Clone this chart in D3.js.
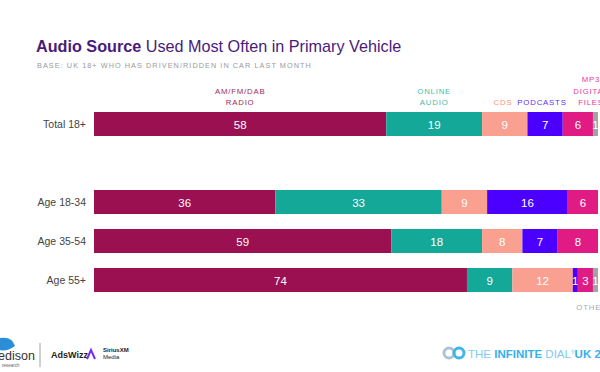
<html>
<head>
<script src="https://d3js.org/d3.v7.min.js"></script>
<style>
  body { margin: 0; background: #fff; font-family: "Liberation Sans", Arial, sans-serif; }
</style>
</head>
<body>
<svg id="chart"></svg>
<script>
const width = 600, height = 372;

// data
const sources = ["AM/FM/DAB Radio", "Online Audio", "CDs", "Podcasts", "MP3 Digital Files", "Other"];
const groups = ["Total 18+", "Age 18-34", "Age 35-54", "Age 55+"];
const total18 = [58, 19, 9, 7, 6, 1];
const age1834 = [36, 33, 9, 16, 6, 0];
const age3554 = [59, 18, 8, 7, 8, 0];
const age55 = [74, 9, 12, 1, 3, 1];
const legendLines = [["AM/FM/DAB", "RADIO"], ["ONLINE", "AUDIO"], ["CDS"], ["PODCASTS"], ["MP3", "DIGITAL", "FILES"], ["OTHER"]];
const colors = ["#9a1050", "#14a898", "#f9a091", "#4b00ff", "#e01c84", "#a3a3a3"];
const labelColors = ["#a3285f", "#45bba9", "#f7957f", "#6030f2", "#e5389a", "#aaaaaa"];

const values = [total18, age1834, age3554, age55];

const svg = d3.select("#chart").attr("width", width).attr("height", height);

// title
const title = svg.append("text").attr("x", 36).attr("y", 52)
  .style("font-size", "16.2px").style("fill", "#4a1a7c");
title.append("tspan").text("Audio Source").style("font-weight", "bold");
title.append("tspan").text(" Used Most Often in Primary Vehicle");

svg.append("text").attr("x", 37).attr("y", 68)
  .text("BASE: UK 18+ WHO HAS DRIVEN/RIDDEN IN CAR LAST MONTH")
  .style("font-size", "7.3px").style("letter-spacing", "1.05px").style("fill", "#9a9a9a");

// scales
const x = d3.scaleLinear().domain([0, 100]).range([94, 598]);
const yPos = {"Total 18+": 124, "Age 18-34": 202, "Age 35-54": 241, "Age 55+": 280};
const barH = 24;

groups.forEach((g, gi) => {
  const cy = yPos[g];
  svg.append("text").attr("x", 86).attr("y", cy + 4)
    .attr("text-anchor", "end").text(g)
    .style("font-size", "10.5px").style("fill", "#444");
  let acc = 0;
  values[gi].forEach((v, si) => {
    if (v === 0) return;
    const x0 = x(acc), x1 = x(acc + v);
    svg.append("rect").attr("x", x0).attr("y", cy - barH / 2)
      .attr("width", x1 - x0).attr("height", barH).attr("fill", colors[si]);
    svg.append("text").attr("x", (x0 + x1) / 2).attr("y", cy + 4.5)
      .attr("text-anchor", "middle").text(v)
      .style("font-size", "11.5px").style("fill", "#fff");
    acc += v;
  });
});

// legend labels above total bar
let acc = 0;
total18.forEach((v, si) => {
  const cx = x(acc + v / 2);
  acc += v;
  const lines = legendLines[si];
  let bottomY = 105;
  let cxx = cx;
  if (si === 5) { bottomY = 310; cxx = 592; }
  if (si === 4) cxx = 591;
  if (si === 3) cxx = 542;
  if (si === 2) cxx = 503;
  lines.forEach((ln, li) => {
    svg.append("text").attr("x", cxx)
      .attr("y", bottomY - (lines.length - 1 - li) * 11.5)
      .attr("text-anchor", "middle").text(ln)
      .style("font-size", "7.8px").style("letter-spacing", "0.8px")
      .style("fill", labelColors[si]);
  });
});

// footer
const foot = svg.append("g");
foot.append("path").attr("d", "M0,338 Q12,336 15,346 Q6,352 0,350 Z").attr("fill", "#2a8fd6");
foot.append("text").attr("x", -2).attr("y", 360).text("edison")
  .style("font-size", "12.5px").style("fill", "#333");
foot.append("text").attr("x", 2).attr("y", 367).text("research")
  .style("font-size", "4.5px").style("fill", "#666");
foot.append("line").attr("x1", 40).attr("x2", 40).attr("y1", 343).attr("y2", 367)
  .attr("stroke", "#888").attr("stroke-width", 0.8);
foot.append("text").attr("x", 51).attr("y", 358).text("AdsWizz")
  .style("font-size", "9px").style("font-weight", "bold").style("fill", "#222");
foot.append("path").attr("d", "M87,359 L91,350 L95,359").attr("fill", "none")
  .attr("stroke", "#7a2cf0").attr("stroke-width", 2);
foot.append("text").attr("x", 103).attr("y", 352).text("SiriusXM")
  .style("font-size", "6px").style("font-weight", "bold").style("fill", "#222");
foot.append("text").attr("x", 103).attr("y", 359).text("Media")
  .style("font-size", "6px").style("fill", "#222");

foot.append("circle").attr("cx", 449).attr("cy", 353).attr("r", 5)
  .attr("fill", "none").attr("stroke", "#a9c4d6").attr("stroke-width", 3);
foot.append("circle").attr("cx", 459).attr("cy", 353).attr("r", 5)
  .attr("fill", "none").attr("stroke", "#3fb5e8").attr("stroke-width", 3);
const dial = foot.append("text").attr("x", 468).attr("y", 357.5)
  .style("font-size", "11.5px").style("fill", "#7fcbee");
dial.append("tspan").text("THE ");
dial.append("tspan").text("INFINITE").style("font-weight", "bold").style("fill", "#35b0ea");
dial.append("tspan").text(" DIAL");
dial.append("tspan").text("®").style("font-size", "5px").attr("dy", -4);
dial.append("tspan").text("UK 2").style("font-weight", "bold").style("fill", "#35b0ea").attr("dy", 4);
</script>
</body>
</html>
